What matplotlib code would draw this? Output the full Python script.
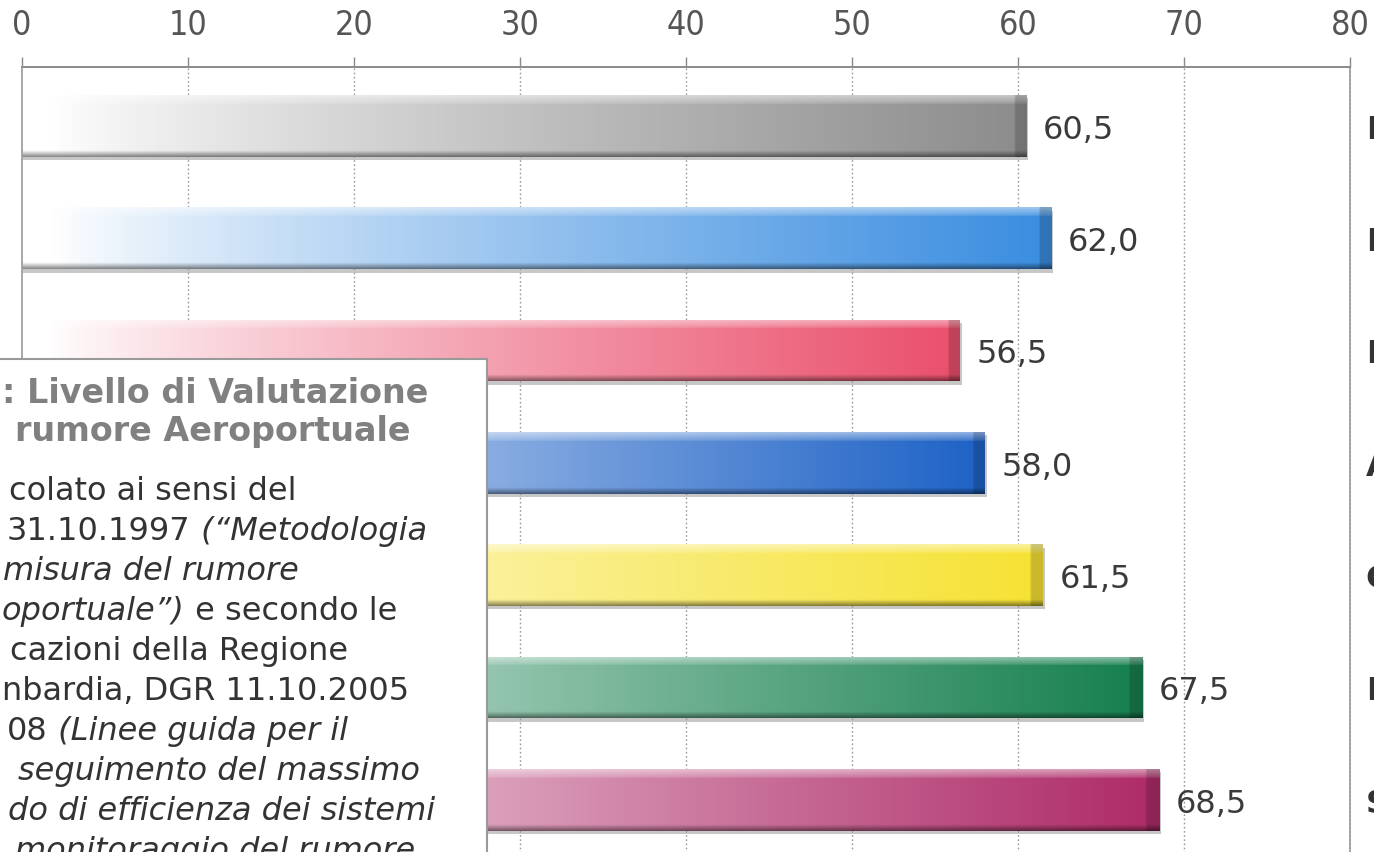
import numpy as np
import matplotlib
matplotlib.use("Agg")
import matplotlib.pyplot as plt
from matplotlib.patches import Rectangle
from matplotlib.colors import to_rgb
from matplotlib import font_manager

# ---------------- data ----------------
values = [60.5, 62.0, 56.5, 58.0, 61.5, 67.5, 68.5]
value_labels = ["60,5", "62,0", "56,5", "58,0", "61,5", "67,5", "68,5"]
bar_colors = ["#8c8c8c", "#3a8de0", "#ea4f6c", "#1e62c6", "#f6e234", "#16804f", "#ae2b68"]
right_labels = ["I", "I", "I", "A", "C", "I", "S"]
x_ticks = [0, 10, 20, 30, 40, 50, 60, 70, 80]

title_lines = [": Livello di Valutazione", "rumore Aeroportuale"]
body_lines = [
    [("colato ai sensi del", "normal")],
    [("31.10.1997", "normal"), (" (\u201cMetodologia", "italic")],
    [("misura del rumore", "italic")],
    [("oportuale\u201d)", "italic"), (" e secondo le", "normal")],
    [("cazioni della Regione", "normal")],
    [("nbardia, DGR 11.10.2005", "normal")],
    [("08", "normal"), (" (Linee guida per il", "italic")],
    [("seguimento del massimo", "italic")],
    [("do di efficienza dei sistemi", "italic")],
    [("monitoraggio del rumore", "italic")],
]

W, H = 1374, 853
fig = plt.figure(figsize=(W / 100, H / 100), dpi=100)
fig.patch.set_facecolor("white")

ax = fig.add_axes([22 / W, -4 / H, 1328 / W, 789 / H])
ax.set_facecolor("white")
ypos = np.arange(len(values))

# gridlines
for t in x_ticks[1:-1]:
    ax.axvline(t, color="#9a9a9a", lw=1.0, ls=(0, (1.2, 1.8)), zorder=1)

# shadows
ax.barh(ypos + 0.03, [v + 0.12 for v in values], height=0.55, color="#9a9a9a",
        alpha=0.55, zorder=2, linewidth=0)

bars = ax.barh(ypos, values, height=0.55, color="none", linewidth=0, zorder=3)


def bar_image(color, nx=500, ny=64):
    c = np.array(to_rgb(color))
    white = np.ones(3)
    t = np.linspace(0, 1, nx)
    g = np.clip((t - 0.03) / 0.97, 0, 1) ** 0.85
    row = white[None, :] * (1 - g[:, None]) + c[None, :] * g[:, None]
    img = np.repeat(row[None, :, :], ny, axis=0)
    v = np.linspace(0, 1, ny)
    hl = np.where(v < 0.14, 0.38 * (1 - v / 0.14) + 0.12, 0.0)
    img = img + (1 - img) * hl[:, None, None]
    dk = np.where(v > 0.9, (v - 0.9) / 0.1 * 0.45, 0.0)
    img = img * (1 - dk[:, None, None])
    edge = t > 0.988
    img[:, edge, :] *= 0.82
    return np.clip(img, 0, 1)


for p, col in zip(bars.patches, bar_colors):
    x0, y0 = p.get_x(), p.get_y()
    w, h = p.get_width(), p.get_height()
    im = ax.imshow(bar_image(col), extent=(x0, x0 + w, y0 + h, y0), origin="upper",
                   aspect="auto", interpolation="bilinear", zorder=3)
    im.set_clip_path(p)

# value labels
for p, lab in zip(bars.patches, value_labels):
    ax.text(p.get_width() + 1.0, p.get_y() + p.get_height() / 2 + 0.03, lab,
            va="center", ha="left", fontsize=23, color="#3a3a3a", zorder=4)

# right-side labels (cut by the figure edge, as in the reference)
for y, lab in zip(ypos, right_labels):
    ax.text(80.95, y + 0.03, lab, va="center", ha="left", fontsize=23,
            fontweight="bold", color="#333333", clip_on=False)

ax.set_xlim(0, 80)
ax.set_ylim(6.5, -0.525)

# tick font: narrow sans if available
names = {f.name for f in font_manager.fontManager.ttflist}
if "Liberation Sans Narrow" in names:
    tick_font = dict(fontfamily="Liberation Sans Narrow")
else:
    tick_font = dict(fontfamily="DejaVu Sans", fontstretch="condensed")

ax.xaxis.tick_top()
ax.set_xticks(x_ticks)
ax.set_xticklabels([str(t) for t in x_ticks], fontsize=24.5, **tick_font)
ax.tick_params(axis="x", direction="out", length=7, width=1, color="#8a8a8a",
               labelcolor="#555555", pad=12)
ax.set_yticks([])
ax.spines["bottom"].set_visible(False)
ax.spines["top"].set_color("#8a8a8a")
ax.spines["top"].set_linewidth(1.4)
ax.spines["left"].set_color("#9a9a9a")
ax.spines["left"].set_linewidth(1.2)
ax.spines["left"].set_zorder(5)
ax.spines["right"].set_color("#8a8a8a")
ax.spines["right"].set_linewidth(1.2)
ax.spines["right"].set_linestyle((0, (1.2, 1.2)))

# ---------------- text box ----------------
box = Rectangle((-10 / W, -20 / H), 497 / W, (H - 360 + 20) / H, transform=fig.transFigure,
                facecolor="white", edgecolor="#9a9a9a", linewidth=1.5, zorder=10)
fig.add_artist(box)

title_x = [2, 15]
title_base = [403, 441]
for txt, x, yb in zip(title_lines, title_x, title_base):
    fig.text(x / W, 1 - yb / H, txt, fontsize=24, fontweight="bold", color="#808080",
             va="baseline", ha="left", zorder=11)

body_x = [9, 7, 3, 2, 10, 2, 7, 18, 8, 15]
body_base = [500, 540, 580, 620, 660, 700, 740, 780, 820, 860]
fig.canvas.draw()
renderer = fig.canvas.get_renderer()
for segs, x, yb in zip(body_lines, body_x, body_base):
    cur_x = x / W
    for s, style in segs:
        t = fig.text(cur_x, 1 - yb / H, s, fontsize=23, style=style, color="#333333",
                     va="baseline", ha="left", zorder=11)
        bb = t.get_window_extent(renderer)
        cur_x = bb.x1 / W

fig.savefig("out.png", dpi=100)
